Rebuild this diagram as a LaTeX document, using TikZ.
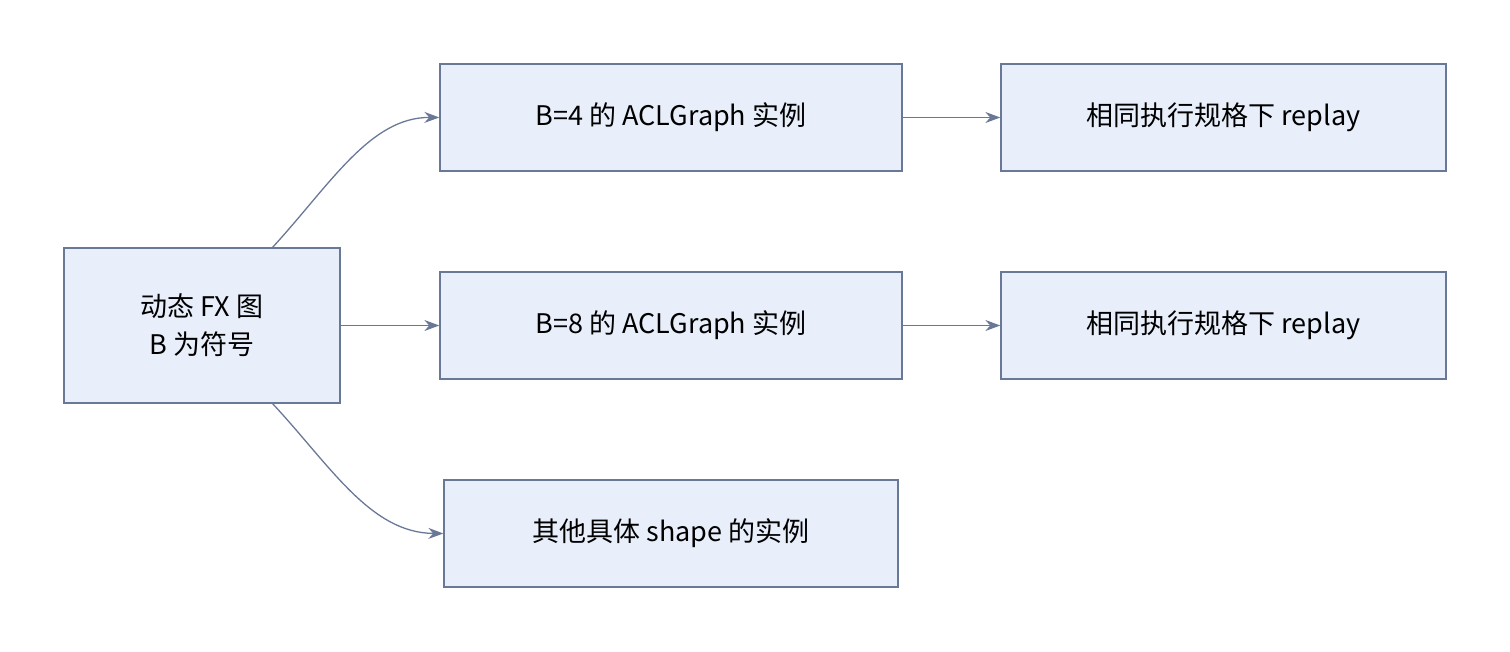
\documentclass[tikz,border=0pt]{standalone}
\usepackage{fontspec}
\setmainfont{Noto Sans CJK SC}
\usetikzlibrary{arrows.meta}
\begin{document}
\begin{tikzpicture}[x=1pt,y=-1pt,
  box/.style={draw=edgec,fill=boxc,line width=1.3pt,inner sep=0pt,font=\fontsize{27}{38}\selectfont,align=center},
  arr/.style={draw=edgec,line width=1.3pt,-{Stealth[length=15pt,width=11pt]}}]
\definecolor{boxc}{HTML}{E8EEFA}
\definecolor{edgec}{HTML}{6A7898}
\useasboundingbox (0,0) rectangle (1510,652);
\node[box,minimum width=276pt,minimum height=155pt] (a) at (202,325.5) {动态 FX 图\\B 为符号};
\node[box,minimum width=462pt,minimum height=107pt] (b1) at (671,117.5) {B=4 的 ACLGraph 实例};
\node[box,minimum width=445pt,minimum height=107pt] (r1) at (1223.5,117.5) {相同执行规格下 replay};
\node[box,minimum width=462pt,minimum height=107pt] (b2) at (671,325.5) {B=8 的 ACLGraph 实例};
\node[box,minimum width=445pt,minimum height=107pt] (r2) at (1223.5,325.5) {相同执行规格下 replay};
\node[box,minimum width=454pt,minimum height=107pt] (b3) at (671,533.5) {其他具体 shape 的实例};
\coordinate (at) at (272,248);
\coordinate (ab) at (272,403);
\draw[arr] (at) .. controls (330,185) and (370,117) .. (b1.west);
\draw[arr] (a.east) -- (b2.west);
\draw[arr] (ab) .. controls (330,465) and (370,533) .. (b3.west);
\draw[arr] (b1.east) -- (r1.west);
\draw[arr] (b2.east) -- (r2.west);
\end{tikzpicture}
\end{document}
